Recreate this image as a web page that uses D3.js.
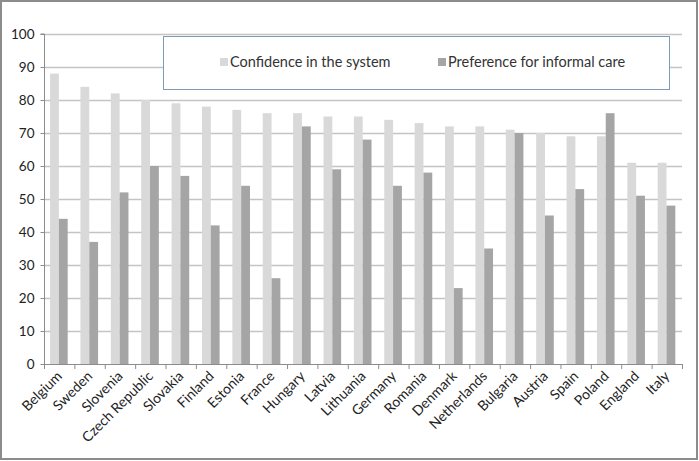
<!DOCTYPE html>
<html>
<head>
<meta charset="utf-8">
<script src="https://cdn.jsdelivr.net/npm/d3@7"></script>
<style>
  body { margin: 0; background: #fff; }
  text { font-family: Lato, "Open Sans", sans-serif; fill: #222; }
</style>
</head>
<body>
<div id="chart"></div>
<script>
// values
var countries = ["Belgium", "Sweden", "Slovenia", "Czech Republic", "Slovakia", "Finland", "Estonia",
  "France", "Hungary", "Latvia", "Lithuania", "Germany", "Romania", "Denmark", "Netherlands",
  "Bulgaria", "Austria", "Spain", "Poland", "England", "Italy"];
var confidence = [88, 84, 82, 80, 79, 78, 77, 76, 76, 75, 75, 74, 73, 72, 72, 71, 70, 69, 69, 61, 61];
var preference = [44, 37, 52, 60, 57, 42, 54, 26, 72, 59, 68, 54, 58, 23, 35, 70, 45, 53, 76, 51, 48];
var seriesNames = ["Confidence in the system", "Preference for informal care"];
var seriesColors = ["#d9d9d9", "#a5a5a5"];
var yTicks = [0, 10, 20, 30, 40, 50, 60, 70, 80, 90, 100];

var W = 699, H = 461;
var margin = {top: 34, right: 17, bottom: 97, left: 44};

var svg = d3.select("#chart").append("svg")
  .attr("width", W).attr("height", H);

// outer frame
svg.append("rect")
  .attr("x", 1).attr("y", 1).attr("width", W - 3).attr("height", H - 3)
  .attr("fill", "#fff").attr("stroke", "#8c8c8c").attr("stroke-width", 2);

var x = d3.scaleBand().domain(countries)
  .range([margin.left, W - margin.right]).paddingInner(0).paddingOuter(0);
var y = d3.scaleLinear().domain([0, 100]).range([H - margin.bottom, margin.top]);

var data = countries.map(function(c, i) {
  return {name: c, values: [confidence[i], preference[i]]};
});

// gridlines
svg.append("g").selectAll("line")
  .data(yTicks.slice(1)).enter()
  .append("line")
  .attr("x1", margin.left).attr("x2", W - margin.right)
  .attr("y1", function(d) { return y(d) + 0.5; })
  .attr("y2", function(d) { return y(d) + 0.5; })
  .attr("stroke", "#c4c4c4").attr("stroke-width", 1.3);

// bars
var barW = x.bandwidth() * 0.29;
var groups = svg.append("g").selectAll("g")
  .data(data).enter()
  .append("g")
  .attr("transform", function(d) { return "translate(" + x(d.name) + ",0)"; });

groups.selectAll("rect")
  .data(function(d) { return d.values; }).enter()
  .append("rect")
  .attr("x", function(d, i) { return x.bandwidth() * 0.2 + i * barW; })
  .attr("y", function(d) { return y(d); })
  .attr("width", barW)
  .attr("height", function(d) { return y(0) - y(d); })
  .attr("fill", function(d, i) { return seriesColors[i]; });

// y axis
var yAxis = d3.axisLeft(y).tickValues(yTicks).tickSize(4).tickPadding(6);
var yg = svg.append("g")
  .attr("transform", "translate(" + (margin.left + 0.5) + ",0)")
  .call(yAxis);
yg.selectAll("line, path").attr("stroke", "#8c8c8c");
yg.select(".domain").attr("d", "M0," + y(0) + "V" + y(100) + "M-4," + y(100) + "H0");
yg.selectAll("text").style("font-size", "13.5px");

// x axis: ticks between categories
var xg = svg.append("g");
xg.append("line")
  .attr("x1", margin.left).attr("x2", W - margin.right)
  .attr("y1", y(0) + 0.5).attr("y2", y(0) + 0.5)
  .attr("stroke", "#8c8c8c");
xg.selectAll(".tk")
  .data(countries.concat(["_end"])).enter()
  .append("line")
  .attr("x1", function(d, i) { return margin.left + i * x.bandwidth() + 0.5; })
  .attr("x2", function(d, i) { return margin.left + i * x.bandwidth() + 0.5; })
  .attr("y1", y(0)).attr("y2", y(0) + 5)
  .attr("stroke", "#8c8c8c");
xg.selectAll(".lbl")
  .data(countries).enter()
  .append("text")
  .attr("text-anchor", "end")
  .attr("transform", function(d) {
    return "translate(" + (x(d) + x.bandwidth() * 0.62) + "," + (y(0) + 13) + ") rotate(-45)";
  })
  .style("font-size", "14px")
  .text(function(d) { return d; });

// legend
var lg = svg.append("g");
lg.append("rect")
  .attr("x", 163.5).attr("y", 36.5).attr("width", 506).attr("height", 53)
  .attr("fill", "#fff").attr("stroke", "#7f9ab8");
var legendX = [220, 438];
seriesNames.forEach(function(n, i) {
  lg.append("rect")
    .attr("x", legendX[i]).attr("y", 58).attr("width", 8).attr("height", 8)
    .attr("fill", seriesColors[i]);
  lg.append("text")
    .attr("x", legendX[i] + 10).attr("y", 67)
    .style("font-size", "14.5px")
    .style("fill", "#333")
    .text(n);
});
</script>
</body>
</html>
